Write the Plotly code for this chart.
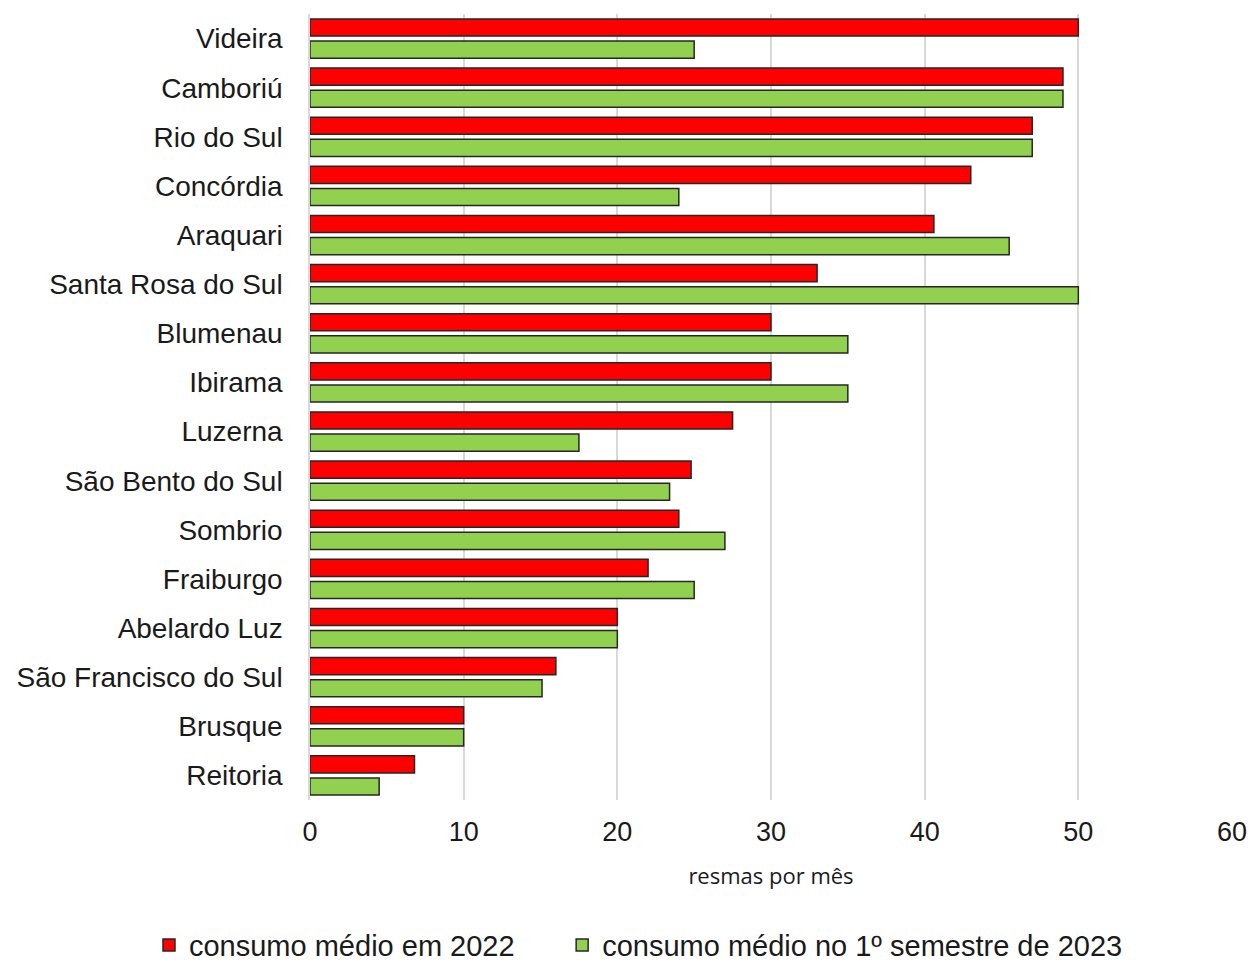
import plotly.graph_objects as go

campi = [
    "Videira", "Camboriú", "Rio do Sul", "Concórdia", "Araquari",
    "Santa Rosa do Sul", "Blumenau", "Ibirama", "Luzerna",
    "São Bento do Sul", "Sombrio", "Fraiburgo", "Abelardo Luz",
    "São Francisco do Sul", "Brusque", "Reitoria",
]
consumo_2022 = [50, 49, 47, 43, 40.6, 33, 30, 30, 27.5, 24.8, 24, 22, 20, 16, 10, 6.8]
consumo_2023_s1 = [25, 49, 47, 24, 45.5, 50, 35, 35, 17.5, 23.4, 27, 25, 20, 15.1, 10, 4.5]

nome_2022 = "consumo médio em 2022"
nome_2023 = "consumo médio no 1º semestre de 2023"

x_ticks = [0, 10, 20, 30, 40, 50, 60]

font_main = "Liberation Sans, Arial, sans-serif"
outline = dict(color="#262626", width=1.5)

fig = go.Figure()
fig.add_trace(go.Bar(
    y=campi, x=consumo_2022, orientation="h", name=nome_2022,
    marker=dict(color="#FF0000", line=outline), legend="legend",
))
fig.add_trace(go.Bar(
    y=campi, x=consumo_2023_s1, orientation="h", name=nome_2023,
    marker=dict(color="#92D050", line=outline), legend="legend2",
))

legend_common = dict(
    orientation="h", xref="container", yref="container",
    xanchor="left", y=0.0166, yanchor="middle",
    font=dict(size=29, color="#1a1a1a", family=font_main), itemwidth=30,
)

fig.update_layout(
    width=1252, height=961,
    margin=dict(l=310, r=20, t=14, b=161),
    paper_bgcolor="white", plot_bgcolor="white",
    barmode="group", bargap=0.10, bargroupgap=0.23,
    font=dict(family=font_main, size=28, color="#1a1a1a"),
    legend=dict(x=0.119, **legend_common),
    legend2=dict(x=0.449, **legend_common),
    showlegend=True,
)

fig.update_xaxes(
    range=[0, 60], tickvals=x_ticks, ticktext=[str(v) for v in x_ticks],
    showgrid=True, gridcolor="#d9d9d9", gridwidth=1.5,
    zeroline=False, showline=False, automargin=False,
    tickfont=dict(size=27, family=font_main, color="#1a1a1a"),
    ticklabelstandoff=13,
    title=dict(text="resmas por mês", standoff=22,
               font=dict(size=22, family="Open Sans, sans-serif", color="#1a1a1a")),
)
fig.update_yaxes(
    categoryorder="array", categoryarray=campi, autorange="reversed",
    showgrid=False, zeroline=False, automargin=False,
    showline=True, linecolor="#d9d9d9", linewidth=1.5,
    ticks="", ticklabelstandoff=20,
    tickfont=dict(size=28, family=font_main, color="#1a1a1a"),
)

fig.write_html("out.html")
